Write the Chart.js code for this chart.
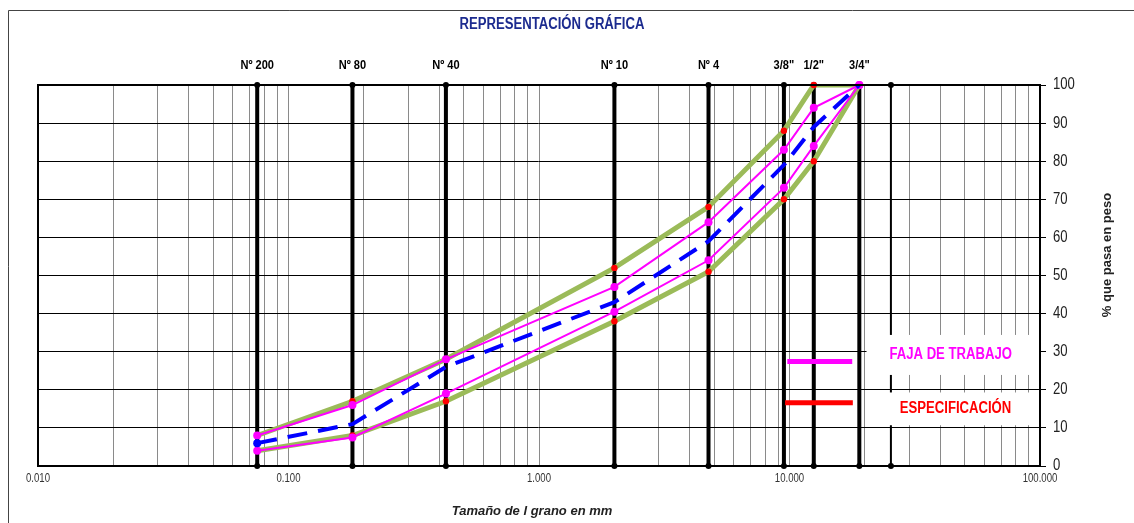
<!DOCTYPE html>
<html>
<head>
<meta charset="utf-8">
<script src="https://cdn.jsdelivr.net/npm/chart.js@4.4.1/dist/chart.umd.min.js"></script>
<style>
  html, body { margin: 0; padding: 0; background: #fff; }
  #wrap { width: 1134px; height: 523px; }
</style>
</head>
<body>
<div id="wrap"><canvas id="granChart" width="1134" height="523"></canvas></div>
<script>
const SANS = "'Liberation Sans', Arial, sans-serif";
const SQUASH = 0.82; // narrow look, like Arial Narrow

// ---- DATA ----
const sieveNames = ["Nº 200", "Nº 80", "Nº 40", "Nº 10", "Nº 4", "3/8\"", "1/2\"", "3/4\""];
const sieveSizes = [0.075, 0.18, 0.425, 2.0, 4.75, 9.5, 12.5, 19.0];
const extraSieve = 25.4; // 1" line, no label

const specUpper = [8, 17, 28, 52, 68, 88, 100, 100];
const specLower = [4, 8, 17, 38, 51, 70, 80, 100];
const workUpper = [8, 16, 28, 47, 64, 83, 94, 100];
const workLower = [4, 7.5, 19, 40.5, 54, 73, 84, 100];
const gradation = [6, 11, 26, 43, 59, 79, 89, 100];

const decades = [0.01, 0.1, 1, 10, 100];
const decadeLabels = ["0.010", "0.100", "1.000", "10.000", "100.000"];
const yTicks = [0, 10, 20, 30, 40, 50, 60, 70, 80, 90, 100];

// legend (drawn inside plot, in scale units)
const legendItems = [
  { text: "FAJA DE TRABAJO", color: "#ff00ff", lineX: [9.8, 17.8], lineY: 27.4, textX: 44, textY: 29.2 },
  { text: "ESPECIFICACIÓN", color: "#ff0000", lineX: [9.6, 17.9], lineY: 16.6, textX: 46, textY: 15 }
];
const legendBoxes = [
  { x0: 20.3, y0: 34.4, y1: 23.9 },
  { x0: 20.3, y0: 19.3, y1: 10.7 }
];

// minor grid positions on the log axis
const xGrid = [];
for (let i = 0; i < decades.length - 1; i++) {
  for (let m = 1; m <= 9; m++) xGrid.push(Number((decades[i] * m).toPrecision(3)));
}
xGrid.push(100);

function pts(values) {
  return sieveSizes.map((s, i) => ({ x: s, y: values[i] }));
}

function sieveLine(size, width) {
  return {
    data: [{ x: size, y: 0 }, { x: size, y: 100 }],
    borderColor: "#000",
    backgroundColor: "#000",
    borderWidth: width,
    pointRadius: 3,
    pointBorderWidth: 0,
    clip: false
  };
}

const datasets = [
  {
    label: "Gradación",
    data: pts(gradation),
    borderColor: "#0000ff",
    backgroundColor: "#0000ff",
    borderWidth: 4,
    borderDash: [20, 11],
    pointRadius: [4, 0, 0, 0, 0, 0, 0, 0],
    pointBorderWidth: 0
  },
  {
    label: "Faja sup",
    data: pts(workUpper),
    borderColor: "#ff00ff",
    backgroundColor: "#ff00ff",
    borderWidth: 2,
    pointRadius: 4,
    pointBorderWidth: 0,
    clip: false
  },
  {
    label: "Faja inf",
    data: pts(workLower),
    borderColor: "#ff00ff",
    backgroundColor: "#ff00ff",
    borderWidth: 2,
    pointRadius: 4,
    pointBorderWidth: 0,
    clip: false
  },
  {
    label: "Esp sup pts",
    data: pts(specUpper),
    showLine: false,
    backgroundColor: "#ff0000",
    pointRadius: 3.2,
    pointBorderWidth: 0,
    clip: false
  },
  {
    label: "Esp inf pts",
    data: pts(specLower),
    showLine: false,
    backgroundColor: "#ff0000",
    pointRadius: 3.2,
    pointBorderWidth: 0,
    clip: false
  },
  {
    label: "Esp sup",
    data: pts(specUpper),
    borderColor: "#9bbb59",
    borderWidth: 5,
    pointRadius: 0
  },
  {
    label: "Esp inf",
    data: pts(specLower),
    borderColor: "#9bbb59",
    borderWidth: 5,
    pointRadius: 0
  }
];
sieveSizes.forEach(s => datasets.push(sieveLine(s, 4)));
datasets.push(sieveLine(extraSieve, 2));

// squeezed text, since no narrow font is installed
function narrowText(ctx, text, x, y, font, color, align, squash) {
  ctx.save();
  ctx.font = font;
  ctx.fillStyle = color;
  ctx.textAlign = align || "center";
  ctx.textBaseline = "middle";
  ctx.translate(x, y);
  ctx.scale(squash || SQUASH, 1);
  ctx.fillText(text, 0, 0);
  ctx.restore();
}

// ---- DECORATION ----
const decor = {
  id: "decor",
  beforeDraw(chart) {
    const ctx = chart.ctx;
    ctx.save();
    ctx.strokeStyle = "#444";
    ctx.lineWidth = 1;
    ctx.beginPath();
    ctx.moveTo(8.5, 523);
    ctx.lineTo(8.5, 10.5);
    ctx.lineTo(1134, 10.5);
    ctx.stroke();
    ctx.restore();
  },
  afterDatasetsDraw(chart) {
    const { ctx, chartArea: a, scales: { x, y } } = chart;
    ctx.save();

    // white boxes behind legend
    ctx.fillStyle = "#fff";
    legendBoxes.forEach(b => {
      const x0 = x.getPixelForValue(b.x0);
      const y0 = y.getPixelForValue(b.y0);
      const y1 = y.getPixelForValue(b.y1);
      ctx.fillRect(x0, y0, a.right - x0, y1 - y0);
    });

    // legend samples and texts
    legendItems.forEach(it => {
      ctx.strokeStyle = it.color;
      ctx.lineWidth = 5;
      ctx.beginPath();
      ctx.moveTo(x.getPixelForValue(it.lineX[0]), y.getPixelForValue(it.lineY));
      ctx.lineTo(x.getPixelForValue(it.lineX[1]), y.getPixelForValue(it.lineY));
      ctx.stroke();
      narrowText(ctx, it.text, x.getPixelForValue(it.textX), y.getPixelForValue(it.textY),
        "bold 16px " + SANS, it.color);
    });

    // plot frame
    ctx.strokeStyle = "#000";
    ctx.lineWidth = 2;
    ctx.strokeRect(a.left, a.top, a.right - a.left, a.bottom - a.top);

    // axis tick labels
    y.ticks.forEach(t => {
      narrowText(ctx, String(t.value), a.right + 13, y.getPixelForValue(t.value),
        "16px " + SANS, "#222", "left");
    });
    decades.forEach((d, i) => {
      narrowText(ctx, decadeLabels[i], x.getPixelForValue(d), a.bottom + 13,
        "12px " + SANS, "#333", "center", 0.8);
    });

    // sieve names
    sieveNames.forEach((n, i) => {
      narrowText(ctx, n, x.getPixelForValue(sieveSizes[i]), 65, "bold 13.5px " + SANS, "#000");
    });

    // title
    narrowText(ctx, "REPRESENTACIÓN GRÁFICA", 552, 25, "bold 16px " + SANS, "#1c2b8f");

    // x title
    ctx.fillStyle = "#222";
    ctx.textAlign = "center";
    ctx.textBaseline = "middle";
    ctx.font = "italic bold 13px " + SANS;
    ctx.fillText("Tamaño de l grano en mm", 532, 511);

    // y title, reads bottom-to-top
    ctx.translate(1107, 255);
    ctx.rotate(-Math.PI / 2);
    ctx.font = "bold 13px " + SANS;
    ctx.fillText("% que pasa en peso", 0, 0);

    ctx.restore();
  }
};

const ctx = document.getElementById("granChart").getContext("2d");
new Chart(ctx, {
  type: "line",
  data: { datasets },
  plugins: [decor],
  options: {
    responsive: false,
    animation: false,
    layout: { padding: { left: 38, top: 85, right: 0, bottom: 0 } },
    plugins: {
      legend: { display: false },
      tooltip: { enabled: false },
      title: { display: false }
    },
    scales: {
      x: {
        type: "logarithmic",
        min: 0.01,
        max: 100,
        afterBuildTicks: s => { s.ticks = xGrid.map(v => ({ value: v })); },
        afterFit: s => { s.height = 57; },
        grid: { color: "#8a8a8a", lineWidth: 1, drawTicks: false },
        border: { display: false },
        ticks: { display: false, autoSkip: false, maxRotation: 0 }
      },
      y: {
        position: "right",
        min: 0,
        max: 100,
        afterBuildTicks: s => { s.ticks = yTicks.map(v => ({ value: v })); },
        afterFit: s => { s.width = 94; },
        grid: { color: "#000", lineWidth: 1, tickLength: 6 },
        border: { display: true, color: "#000", width: 2 },
        ticks: { display: false }
      }
    }
  }
});
</script>
</body>
</html>
